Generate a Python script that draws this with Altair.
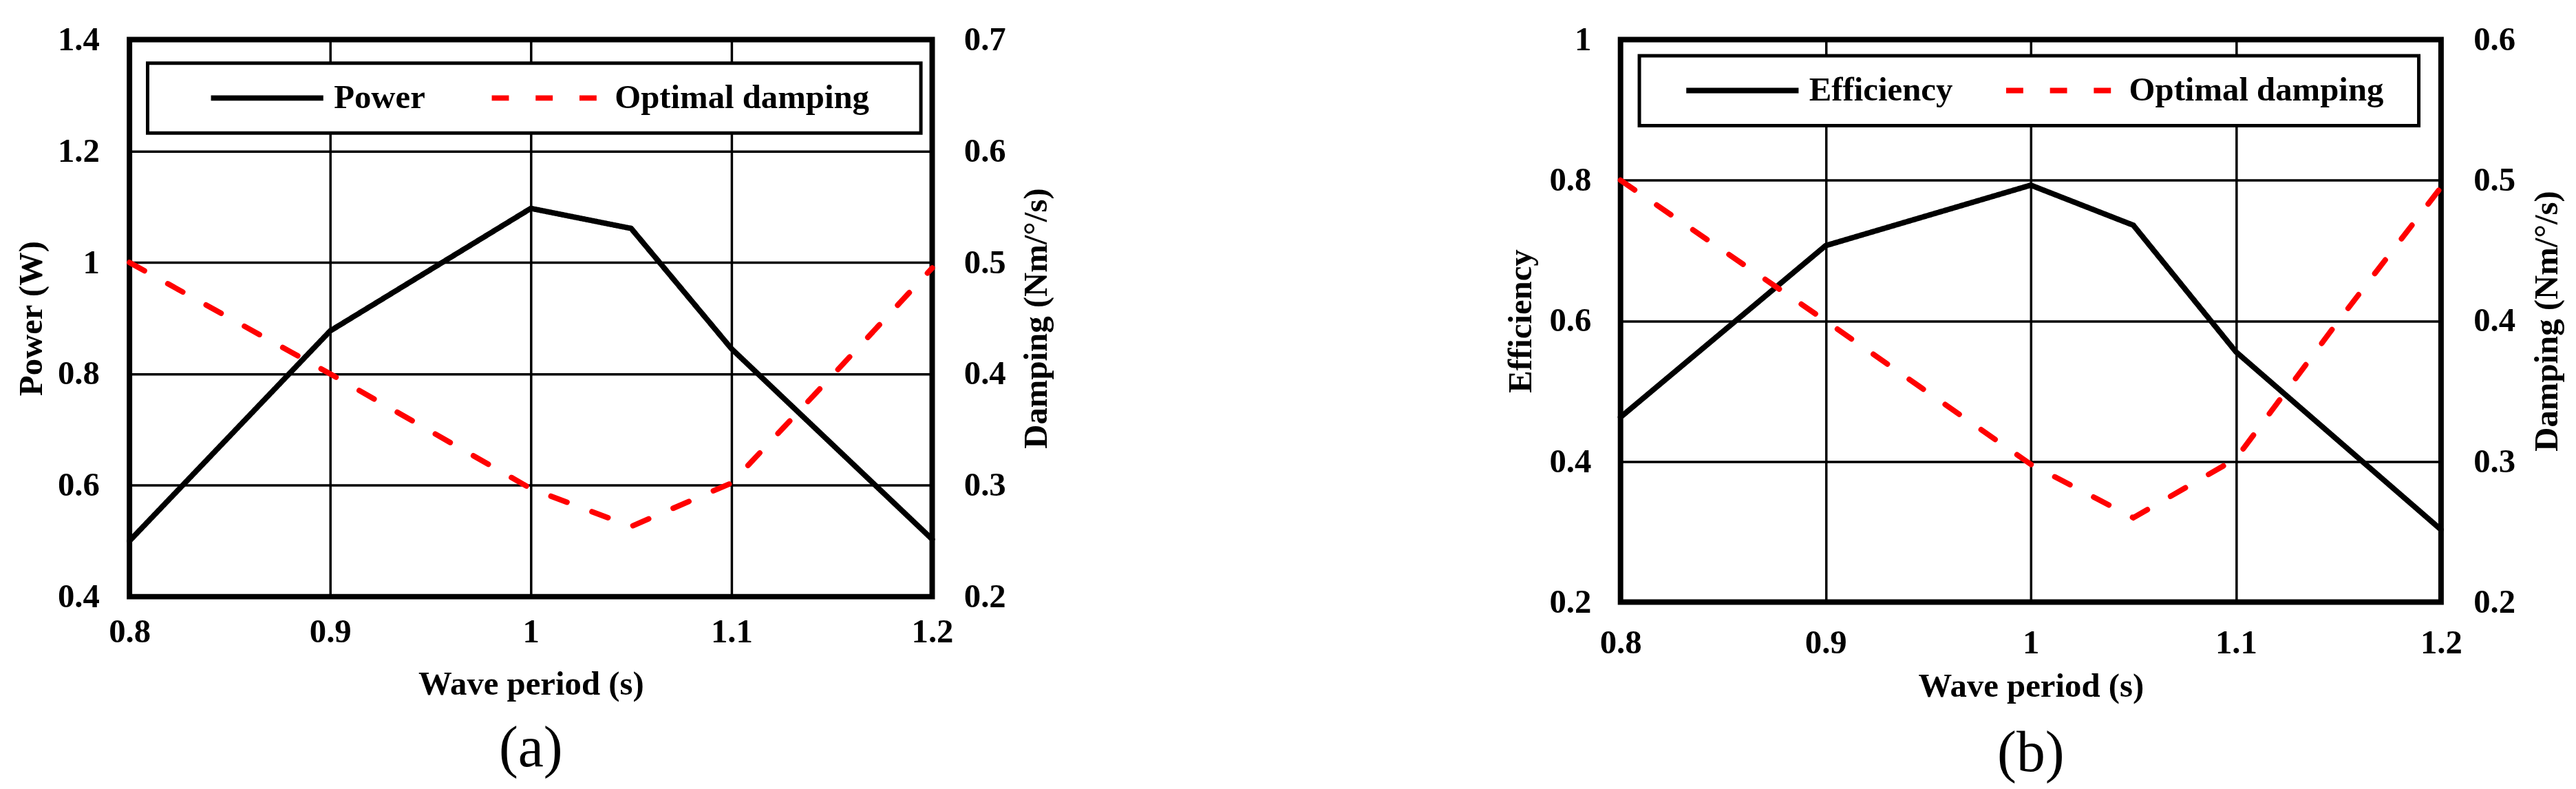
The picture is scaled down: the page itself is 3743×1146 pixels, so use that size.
import altair as alt
import pandas as pd

# ---------------- data ----------------
periods = [0.8, 0.9, 1.0, 1.05, 1.1, 1.2]
power = [0.50, 0.877, 1.097, 1.061, 0.845, 0.503]
efficiency = [0.463, 0.707, 0.793, 0.736, 0.556, 0.303]

damp_periods = [0.8, 0.9, 1.0, 1.05, 1.1, 1.15, 1.2]
damping_a = [0.50, 0.40, 0.297, 0.263, 0.302, 0.398, 0.495]
damping_b = [0.50, 0.40, 0.298, 0.260, 0.302, 0.400, 0.495]

x_ticks = [0.8, 0.9, 1.0, 1.1, 1.2]
power_ticks = [0.4, 0.6, 0.8, 1.0, 1.2, 1.4]
damp_ticks_a = [0.2, 0.3, 0.4, 0.5, 0.6, 0.7]
eff_ticks = [0.2, 0.4, 0.6, 0.8, 1.0]
damp_ticks_b = [0.2, 0.3, 0.4, 0.5, 0.6]

FONT = "Liberation Serif"
FS = 49
NB = "\u00a0"
ZW = "\u200b"


def panel(main_name, main_vals, damp_vals, main_title, main_dom, main_ticks,
          damp_dom, damp_ticks, w, h, lx, ly, sym_off, col_pad, nb_count,
          caption, cap_off, ltp, rtp, llp, rlp, xlp, xtp):
    df_main = pd.DataFrame({"period": periods, "value": main_vals, "series": main_name})
    df_damp = pd.DataFrame({"period": damp_periods, "value": damp_vals,
                            "series": "Optimal damping"})
    domain = [main_name, "Optimal damping"]
    pad = NB * nb_count + ZW
    legend = alt.Legend(
        title=None, orient="none", legendX=lx, legendY=ly, direction="horizontal",
        symbolType="M-4,0H4", symbolSize=1681, symbolStrokeWidth=8,
        symbolOffset=sym_off, labelOffset=73, columnPadding=col_pad,
        labelLimit=0,
        labelExpr=f"datum.label == 'Optimal damping' ? datum.label + '{pad}' : datum.label",
    )
    color = alt.Color("series:N", scale=alt.Scale(domain=domain, range=["#000000", "#ff0000"]),
                      legend=legend)
    dash = alt.StrokeDash("series:N", scale=alt.Scale(domain=domain, range=[[1, 0], [25, 39]]),
                          legend=legend)
    x = alt.X("period:Q",
              scale=alt.Scale(domain=[0.8, 1.2], nice=False, zero=False),
              axis=alt.Axis(values=x_ticks, format=".1~f", title="Wave period (s)",
                            grid=True, labelPadding=xlp, titlePadding=xtp,
                            labelFlush=False))
    main = alt.Chart(df_main).mark_line(strokeWidth=8, strokeCap="round").encode(
        x=x,
        y=alt.Y("value:Q", scale=alt.Scale(domain=main_dom, nice=False, zero=False),
                axis=alt.Axis(orient="left", values=main_ticks, format=".1~f",
                              title=main_title, grid=True, labelPadding=llp,
                              titlePadding=ltp, labelFlush=False)),
        color=color, strokeDash=dash,
    )
    damp = alt.Chart(df_damp).mark_line(strokeWidth=8, strokeCap="round").encode(
        x=x,
        y=alt.Y("value:Q", scale=alt.Scale(domain=damp_dom, nice=False, zero=False),
                axis=alt.Axis(orient="right", values=damp_ticks, format=".1~f",
                              title="Damping (Nm/°/s)", grid=False, labelPadding=rlp,
                              titlePadding=rtp, titleAngle=270, titleBaseline="top",
                              labelFlush=False)),
        color=color, strokeDash=dash,
    )
    return alt.layer(main, damp).resolve_scale(y="independent").properties(
        width=w, height=h,
        title=alt.TitleParams(caption, orient="bottom", anchor="middle", frame="group",
                              font=FONT, fontSize=84, fontWeight="normal", color="black",
                              offset=cap_off),
    )


pa = panel("Power", power, damping_a, "Power (W)", [0.4, 1.4], power_ticks,
           [0.2, 0.7], damp_ticks_a, 1172, 813, 26.5, 34.5, 124, 30, 4,
           "(a)", 29, 13, 21, 44, 46, 27, 28)
pb = panel("Efficiency", efficiency, damping_b, "Efficiency", [0.2, 1.0], eff_ticks,
           [0.2, 0.6], damp_ticks_b, 1198, 821, 27.5, 23.5, 100, 35, 2,
           "(b)", 33, 17, 22, 43, 47, 35, 15)

chart = alt.hconcat(pa, pb, spacing=648).resolve_scale(
    color="independent", strokeDash="independent"
).resolve_legend(
    color="independent", strokeDash="independent"
).properties(
    padding={"left": 9, "top": 19, "right": 5, "bottom": 5}
).configure_view(
    stroke="black", strokeWidth=8
).configure_axis(
    domain=False, ticks=False, tickSize=0,
    gridColor="black", gridWidth=3.5, gridOpacity=1,
    labelFont=FONT, labelFontSize=FS, labelFontWeight="bold", labelColor="black",
    titleFont=FONT, titleFontSize=FS, titleFontWeight="bold", titleColor="black",
).configure_legend(
    strokeColor="black", strokeWidth=5, fillColor="white", padding=26,
    labelFont=FONT, labelFontSize=FS, labelFontWeight="bold", labelColor="black",
)

chart.save("out.html", embed_options={"renderer": "svg", "actions": False})
